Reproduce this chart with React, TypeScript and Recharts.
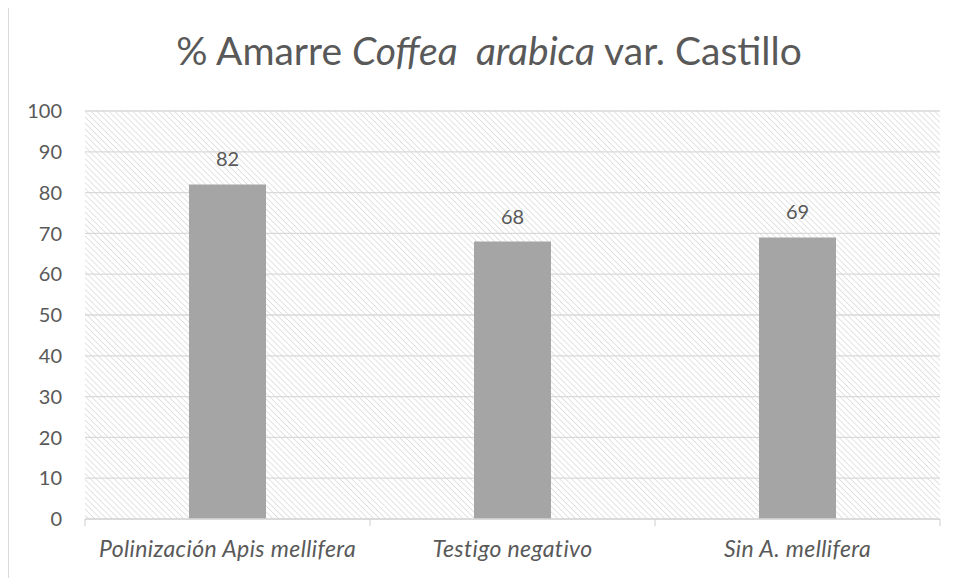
import React from 'react';
import { BarChart, Bar, XAxis, YAxis, CartesianGrid, LabelList } from 'recharts';

const categories = ['Polinización Apis mellifera', 'Testigo negativo', 'Sin A. mellifera'];
const amarre = [82, 68, 69];
const yTicks = [0, 10, 20, 30, 40, 50, 60, 70, 80, 90, 100];

const data = categories.map((name, i) => ({ name, amarre: amarre[i] }));

const TEXT = '#595959';
const FONT = 'Lato, "Open Sans", sans-serif';
const LINE = '#d9d9d9';

// category label plus Excel-style tick marks between categories
const CategoryTick: React.FC<any> = ({ x, y, payload, index, width, visibleTicksCount }) => {
	const band = width / visibleTicksCount;
	const left = x - band / 2;
	return (
		<g>
			<line x1={left} y1={y} x2={left} y2={y + 7} stroke={LINE} strokeWidth={1.3} />
			{index === visibleTicksCount - 1 && (
				<line x1={left + band} y1={y} x2={left + band} y2={y + 7} stroke={LINE} strokeWidth={1.3} />
			)}
			<text
				x={x}
				y={y + 38}
				textAnchor="middle"
				fill={TEXT}
				fontSize={23}
				fontStyle="italic"
				fontFamily={FONT}
				letterSpacing={0.4}
			>
				{payload.value}
			</text>
		</g>
	);
};

const App: React.FC = () => (
	<div
		style={{
			position: 'relative',
			width: 970,
			height: 590,
			marginTop: -3,
			border: '1.5px solid #d9d9d9',
			fontFamily: FONT,
			boxSizing: 'border-box',
		}}
	>
		<svg width="0" height="0" style={{ position: 'absolute' }}>
			<defs>
				<pattern id="hatch" width="4.2" height="4.2" patternUnits="userSpaceOnUse" patternTransform="rotate(-45)">
					<line x1="0" y1="0" x2="0" y2="4.2" stroke="#dadada" strokeWidth="1.5" />
				</pattern>
			</defs>
		</svg>
		<div
			style={{
				position: 'absolute',
				top: 21,
				left: 0,
				width: 960,
				textAlign: 'center',
				fontSize: 39,
				color: TEXT,
				whiteSpace: 'pre',
			}}
		>
			% Amarre <i>Coffea  arabica</i> var. Castillo
		</div>
		<div style={{ position: 'absolute', left: 0, top: 0 }}>
			<BarChart
				width={950}
				height={573}
				data={data}
				margin={{ top: 105, right: 19, left: 0, bottom: 10 }}
			>
				<CartesianGrid vertical={false} stroke={LINE} strokeWidth={1.3} fill="url(#hatch)" />
				<XAxis
					dataKey="name"
					height={50}
					stroke={LINE}
					strokeWidth={1.3}
					tickLine={false}
					tickSize={0}
					tickMargin={0}
					tick={<CategoryTick />}
				/>
				<YAxis
					width={76}
					domain={[0, 100]}
					ticks={yTicks}
					axisLine={false}
					tickLine={false}
					tickMargin={17}
					tick={{ fill: TEXT, fontSize: 20, fontFamily: FONT }}
				/>
				<Bar dataKey="amarre" fill="#a5a5a5" barSize={77} isAnimationActive={false}>
					<LabelList dataKey="amarre" position="top" offset={18} fill={TEXT} fontSize={20} fontFamily={FONT} />
				</Bar>
			</BarChart>
		</div>
	</div>
);

export default App;
